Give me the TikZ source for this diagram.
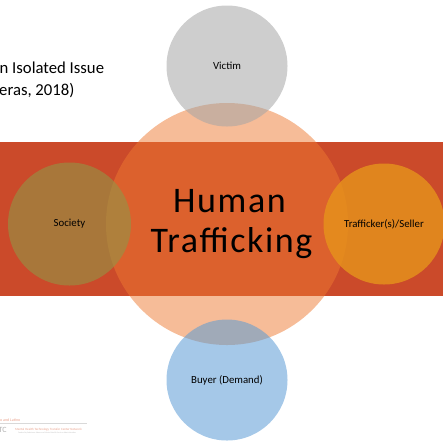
\documentclass[tikz,border=0pt]{standalone}
\usepackage{fontspec}
\setmainfont{Carlito}
\newfontfamily\titlefont[LetterSpace=4.5]{Carlito}
\definecolor{bandred}{RGB}{203,74,42}
\definecolor{hubfill}{RGB}{237,121,49}
\definecolor{victimfill}{RGB}{165,165,165}
\definecolor{societyfill}{RGB}{145,150,70}
\definecolor{sellerfill}{RGB}{230,148,27}
\definecolor{buyerfill}{RGB}{91,155,213}
\definecolor{logored}{RGB}{222,120,90}

\begin{document}
\begin{tikzpicture}[x=1pt, y=-1pt,
  bubble/.style={circle, inner sep=0pt, minimum size=121pt, text opacity=1,
    font=\fontsize{10.8}{12}\selectfont},
  bigword/.style={anchor=base, inner sep=0pt, font=\titlefont\fontsize{36}{40}\selectfont}]
  \useasboundingbox (0,0) rectangle (443,440);
  % band
  \fill[bandred] (0,142) rectangle (443,296);
  % centre
  \fill[hubfill, fill opacity=0.5] (227,224) circle (121);
  % outer circles
  \node[bubble, fill=victimfill, fill opacity=0.55] (victim) at (227,66) {Victim};
  \node[bubble, fill=societyfill, fill opacity=0.6, minimum size=123pt] (society) at (69.5,224) {Society};
  \node[bubble, fill=sellerfill, fill opacity=0.8] (seller) at (384,224) {Trafficker(s)/Seller};
  \node[bubble, fill=buyerfill, fill opacity=0.55] (buyer) at (227,380) {Buyer (Demand)};
  % title
  \node[bigword] (human) at (229.5,212) {Human};
  \node[bigword] (trafficking) at (231.5,252) {Trafficking};
  % text on the left
  \node[anchor=base west, inner sep=0pt, font=\fontsize{16.7}{20}\selectfont] (issue) at (-0.5,73.5) {n Isolated Issue};
  \node[anchor=base west, inner sep=0pt, font=\fontsize{16.7}{20}\selectfont] (source) at (-1,95) {eras, 2018)};
  % logo
  \node[anchor=base west, inner sep=0pt, text=logored, font=\fontsize{4}{4}\selectfont, text opacity=0.7] (latino) at (0,421) {o and Latino};
  \draw[gray!30, line width=0.4pt] (0,423.5) -- (87,423.5);
  \node[anchor=base west, inner sep=0pt, text=gray!60, font=\fontsize{8}{8}\selectfont] (tc) at (-1.5,432.5) {TC};
  \node[anchor=base west, inner sep=0pt, text=logored, font=\fontsize{3.2}{3}\selectfont, text opacity=0.7] (network) at (15,430) {Mental Health Technology Transfer Center Network};
  \node[anchor=base west, inner sep=0pt, text=gray!50, font=\fontsize{2}{2}\selectfont] (funder) at (18,433.5) {Funded by Substance Abuse and Mental Health Services Administration};
\end{tikzpicture}
\end{document}
